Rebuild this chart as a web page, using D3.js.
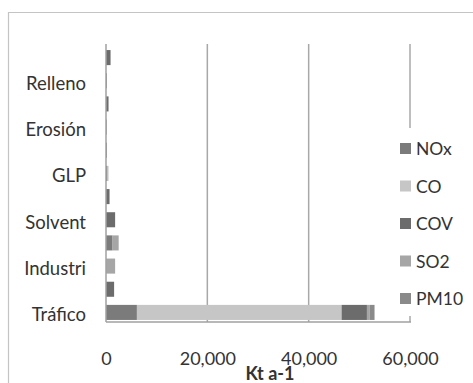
<!DOCTYPE html>
<html><head><meta charset="utf-8">
<script src="https://cdn.jsdelivr.net/npm/d3@7"></script>
<style>body{margin:0;background:#fff;} svg{display:block;font-family:Lato,"Open Sans",sans-serif;}</style>
</head><body>
<svg id="c" width="473" height="383"></svg>
<script>
const categories = ["Tráfico","Aviación","Industri","Termoeléctr","Solvent","Comercio","GLP","Doméstico","Erosión","Incendios","Relleno","Biogénicas"];
const shownLabels = ["Tráfico","Industri","Solvent","GLP","Erosión","Relleno"];
const seriesNames = ["NOx","CO","COV","SO2","PM10"];
const NOx  = [6100,   0,    0, 1300,    0,   0, 300,   0,   0,   0,   0,   0];
const CO   = [40400,  0,    0,    0,    0,   0, 200,   0,   0,   0,   0,   0];
const COV  = [5000, 1600,   0,    0, 1800, 700,   0,   0,   0, 500, 150, 900];
const SO2  = [500,    0, 1800, 1200,    0,   0,   0,   0,   0,   0,   0,   0];
const PM10 = [1000,   0,    0,    0,    0,   0,   0, 200, 150,   0,   0,   0];
const xTicks = [0, 20000, 40000, 60000];
const colors = ["#7b7b7b","#c6c6c6","#6c6c6c","#a6a6a6","#8a8a8a"];

const seriesVals = [NOx, CO, COV, SO2, PM10];
const rows = categories.map((c,i)=>{const r={cat:c}; seriesNames.forEach((s,j)=>r[s]=seriesVals[j][i]); return r;});
const stack = d3.stack().keys(seriesNames)(rows);

const svg = d3.select("#c");
const L=106, R=410, T=44, B=322;
const x = d3.scaleLinear().domain([0,60000]).range([L,R]);
const y = d3.scaleBand().domain(categories).range([B+2,T+2]).paddingInner(0.35).paddingOuter(0.175);

// outer border
svg.append("path").attr("d","M8.5,383 L8.5,12.5 L473,12.5").attr("fill","none").attr("stroke","#c4c4c4").attr("stroke-width",1.2);

// gridlines
svg.append("g").selectAll("line").data(xTicks.slice(1)).join("line")
  .attr("x1",d=>x(d)).attr("x2",d=>x(d)).attr("y1",T).attr("y2",B)
  .attr("stroke","#a8a8a8").attr("stroke-width",1.5);

// bars
svg.append("g").selectAll("g").data(stack).join("g")
  .attr("fill",(d,i)=>colors[i])
  .selectAll("rect").data(d=>d).join("rect")
  .attr("x",d=>x(d[0])).attr("width",d=>Math.max(0,x(d[1])-x(d[0])))
  .attr("y",d=>y(d.data.cat)).attr("height",y.bandwidth());

// axes lines
svg.append("line").attr("x1",L).attr("x2",L).attr("y1",T).attr("y2",B).attr("stroke","#a0a0a0").attr("stroke-width",1.5);
svg.append("line").attr("x1",L).attr("x2",R+1).attr("y1",B).attr("y2",B).attr("stroke","#a0a0a0").attr("stroke-width",1.5);

// x axis labels via d3 axis
const xa = d3.axisBottom(x).tickValues(xTicks).tickFormat(d3.format(",")).tickSize(0).tickPadding(0);
const gx = svg.append("g").attr("transform",`translate(0,${B})`).call(xa);
gx.select(".domain").remove();
gx.selectAll("text").attr("y",43).attr("dy",0).attr("font-size",18).attr("fill","#333").attr("font-family","Lato,'Open Sans',sans-serif");

// y labels
const ya = d3.axisLeft(y).tickSize(0).tickPadding(20).tickFormat(d=>shownLabels.includes(d)?d:"");
const gy = svg.append("g").attr("transform",`translate(${L},0)`).call(ya);
gy.select(".domain").remove();
gy.selectAll("text").attr("dy","0.32em").attr("y",3).attr("font-size",18.5).attr("fill","#333").attr("font-family","Lato,'Open Sans',sans-serif");

// x title
svg.append("text").attr("x",270).attr("y",380).attr("text-anchor","middle").attr("font-weight","bold")
  .attr("font-size",18).attr("fill","#333").text("Kt a-1");

// legend
svg.append("rect").attr("x",396).attr("y",128).attr("width",77).attr("height",188).attr("fill","#fff");
const lg = svg.append("g").selectAll("g").data(seriesNames).join("g")
  .attr("transform",(d,i)=>`translate(400,${149+i*37.5})`);
lg.append("rect").attr("x",0).attr("y",-6).attr("width",11).attr("height",11).attr("fill",(d,i)=>colors[i]);
lg.append("text").attr("x",16).attr("y",0).attr("dy","0.35em").attr("font-size",17.5).attr("fill","#333").text(d=>d);
</script>
</body></html>
